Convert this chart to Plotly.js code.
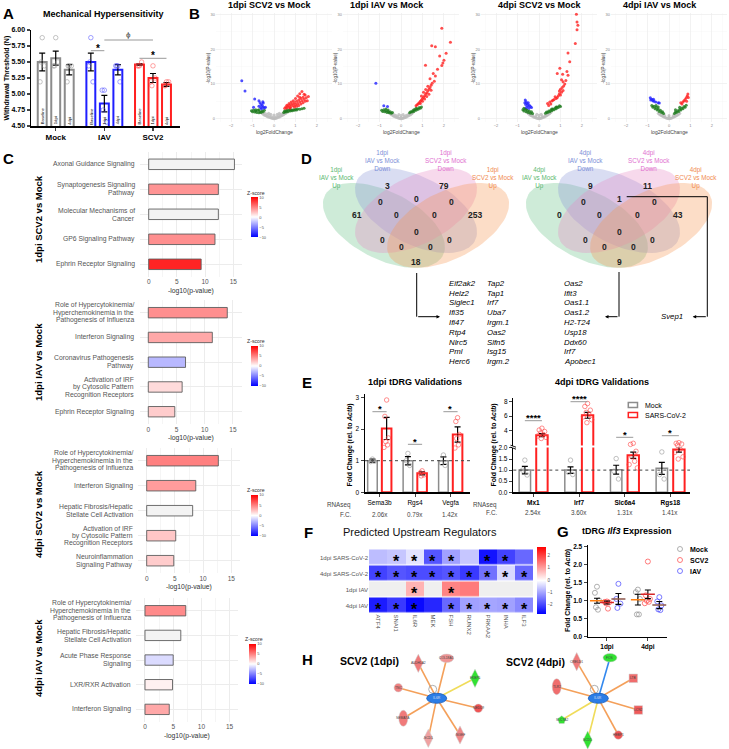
<!DOCTYPE html>
<html>
<head>
<meta charset="utf-8">
<script src="https://cdn.plot.ly/plotly-3.0.1.min.js"></script>
<style>html,body{margin:0;padding:0;background:#fff;}#chart{width:729px;height:749px;}</style>
</head>
<body>
<div id="chart"></div>
<script>
// ================= DATA =================
// Panel A: mechanical hypersensitivity
const aGroups=['Mock','IAV','SCV2'];
const aTimes=['Baseline','1dpi','4dpi'];
const aMeans=[[5.50,5.56,5.38],[5.50,4.85,5.38],[5.46,5.25,5.15]];
const aSem=[[0.14,0.11,0.08],[0.14,0.13,0.08],[0.01,0.07,0.03]];
const aPoints=[
 [[5.88,5.19,5.44,5.50],[5.88,5.44,5.50,5.44],[5.44,5.19,5.44,5.44]],
 [[5.88,5.44,5.19,5.50],[5.06,5.06,4.56,4.75],[5.44,5.44,5.19,5.44]],
 [[5.44,5.44,5.50,5.44],[5.44,5.19,5.25,5.13],[5.19,5.13,5.19,5.13]]];

// Panel B: volcano plots [log2FC, -log10 p]
const bTitles=['1dpi SCV2 vs Mock','1dpi IAV vs Mock','4dpi SCV2 vs Mock','4dpi IAV vs Mock'];
const b1Gray=[[-0.55,1.6],[-0.5,1.3],[-0.45,1.1],[-0.4,0.9],[-0.35,0.8],[-0.3,0.6],[-0.25,0.5],[-0.2,0.35],[-0.15,0.25],[-0.1,0.15],[-0.05,0.05],[0,0.02],[0.05,0.08],[0.1,0.15],[0.15,0.25],[0.2,0.4],[0.25,0.5],[0.3,0.7],[0.35,0.85],[0.4,1.0],[0.45,1.2],[0.5,1.4],[0.55,1.6],[-0.3,1.2],[-0.2,0.9],[-0.1,0.6],[0,0.5],[0.1,0.6],[0.2,0.9],[0.3,1.2],[-0.4,1.5],[0.4,1.5],[-0.15,1.3],[0.15,1.3],[0,1.1],[-0.6,1.9],[0.6,1.9],[-0.25,1.6],[0.25,1.6]];
const b1Green=[[-1.05,2.3],[-1.0,2.0],[-0.95,2.5],[-0.9,1.9],[-0.85,2.2],[-0.8,1.8],[-0.75,2.4],[-0.7,1.7],[-0.65,2.0],[-0.6,1.8],[-0.55,2.2],[-0.5,2.0],[-0.45,2.4],[-0.85,2.6],[-0.7,2.6],[0.45,1.8],[0.5,2.0],[0.55,1.9],[0.6,2.2],[0.65,2.0],[0.7,2.4],[0.75,2.2],[0.8,2.5],[0.85,2.3],[0.9,2.6],[0.95,2.4],[1.0,2.7],[1.05,2.5],[1.1,2.8],[1.2,2.7],[1.3,2.9],[1.4,3.0],[0.6,2.6],[0.75,2.7],[0.5,2.3]];
const b1Blue=[[-1.5,10.9],[-1.35,8.0],[-0.9,5.7],[-0.95,3.3],[-0.7,5.2],[-0.65,4.6],[-0.6,4.1],[-0.55,3.8],[-0.5,3.4],[-0.62,3.2],[-0.5,4.5],[-0.45,3.1],[-0.58,2.9],[-0.7,3.6],[-0.4,3.3],[-0.52,4.9]];
const b1Red=[[0.5,3.0],[0.55,3.4],[0.6,3.1],[0.65,3.7],[0.7,3.3],[0.75,4.0],[0.8,3.5],[0.85,4.3],[0.9,3.8],[0.95,4.6],[1.0,4.1],[1.05,5.0],[1.1,4.4],[1.15,5.4],[1.2,4.8],[1.25,5.8],[1.3,5.2],[1.35,6.2],[1.4,5.6],[1.45,6.8],[1.5,6.0],[1.2,7.2],[1.3,7.8],[1.1,6.5],[1.0,5.8],[0.9,5.2],[0.8,4.8],[0.7,4.4],[0.6,3.9],[1.4,7.0],[1.6,6.4],[1.55,5.2],[1.35,4.6],[1.15,3.8],[0.95,3.4],[1.25,4.2],[0.75,3.1],[1.05,3.6],[1.45,5.0],[1.2,6.2]];
const b2Gray=[[-0.5,1.4],[-0.45,1.2],[-0.4,1.0],[-0.35,0.8],[-0.3,0.65],[-0.25,0.5],[-0.2,0.35],[-0.15,0.25],[-0.1,0.12],[-0.05,0.05],[0,0.02],[0.05,0.06],[0.1,0.14],[0.15,0.25],[0.2,0.38],[0.25,0.5],[0.3,0.68],[0.35,0.82],[0.4,1.0],[0.45,1.2],[0.5,1.4],[-0.25,1.0],[-0.15,0.7],[0,0.45],[0.15,0.7],[0.25,1.0],[-0.35,1.3],[0.35,1.3],[0,0.9],[-0.1,1.2],[0.1,1.2],[-0.55,1.7],[0.55,1.7]];
const b2Green=[[-0.9,2.4],[-0.85,2.1],[-0.8,2.6],[-0.75,2.0],[-0.7,2.3],[-0.65,1.8],[-0.6,2.1],[-0.55,1.7],[-0.5,2.0],[-0.45,1.6],[-0.4,1.8],[-0.7,2.8],[-0.6,2.5],[0.4,1.7],[0.45,2.0],[0.5,1.9],[0.55,2.3],[0.6,2.1],[0.65,2.6],[0.7,2.4],[0.75,2.9],[0.8,2.7],[0.85,3.2],[0.9,3.0],[0.95,3.4],[0.6,2.6],[0.7,3.0]];
const b2Blue=[[-1.17,10.2],[-0.8,3.7],[-0.63,3.5]];
const b2Red=[[1.9,26.0],[2.3,22.0],[1.43,21.0],[1.6,20.7],[2.1,18.8],[1.8,18.0],[2.0,16.8],[1.95,16.0],[1.9,15.3],[1.14,15.4],[1.5,13.0],[1.55,10.8],[1.45,10.2],[1.4,9.6],[1.35,9.0],[1.3,8.5],[1.25,8.0],[1.2,7.5],[1.15,7.1],[1.1,6.6],[1.05,6.2],[1.0,5.8],[0.95,5.4],[0.9,5.0],[0.85,4.6],[0.8,4.3],[0.75,4.0],[0.7,3.7],[1.3,7.0],[1.2,6.4],[1.1,5.7],[1.0,5.0],[0.9,4.4],[1.4,8.2],[1.25,9.3],[1.15,8.4],[1.05,7.6],[0.95,6.5],[1.35,11.5],[1.6,12.3],[1.7,14.2]];
const b3Gray=[[-0.5,1.5],[-0.45,1.25],[-0.4,1.0],[-0.35,0.85],[-0.3,0.7],[-0.25,0.5],[-0.2,0.38],[-0.15,0.25],[-0.1,0.14],[-0.05,0.05],[0,0.02],[0.05,0.06],[0.1,0.15],[0.15,0.26],[0.2,0.4],[0.25,0.52],[0.3,0.7],[0.35,0.86],[0.4,1.05],[0.45,1.25],[0.5,1.5],[-0.3,1.1],[-0.15,0.8],[0,0.5],[0.15,0.8],[0.3,1.1],[-0.4,1.4],[0.4,1.4],[0,1.0],[-0.1,1.3],[0.1,1.3],[-0.55,1.8],[0.55,1.8]];
const b3Green=[[-0.75,2.6],[-0.7,2.2],[-0.65,2.8],[-0.6,2.0],[-0.55,2.4],[-0.5,1.8],[-0.45,2.2],[-0.4,1.6],[-0.35,2.0],[-0.3,1.5],[-0.7,3.0],[-0.6,2.7],[0.3,1.6],[0.35,1.9],[0.4,1.8],[0.45,2.2],[0.5,2.0],[0.55,2.5],[0.6,2.3],[0.65,2.8],[0.7,2.6],[0.75,3.1],[0.8,2.9],[0.85,3.4],[0.9,3.2],[0.95,3.7],[1.0,3.5],[0.6,2.8],[0.8,3.4]];
const b3Blue=[[-0.64,5.4],[-0.6,4.9],[-0.55,4.3],[-0.5,4.6],[-0.45,3.9],[-0.4,3.5],[-0.66,4.6],[-0.52,3.7],[-0.58,3.3],[-0.35,3.2],[-0.62,4.1],[-0.47,3.0]];
const b3Red=[[1.74,30.0],[1.77,27.8],[1.81,26.9],[1.77,25.6],[1.69,21.6],[1.35,18.9],[1.43,16.4],[0.97,14.5],[1.3,13.6],[0.85,13.0],[1.1,12.8],[1.35,12.5],[1.05,11.2],[1.12,10.6],[1.2,10.0],[1.15,9.4],[1.08,9.0],[1.0,8.5],[1.12,8.1],[1.05,7.6],[0.95,7.2],[0.9,6.6],[0.85,6.1],[0.8,5.8],[0.7,5.5],[0.6,5.1],[0.5,4.8],[0.4,4.4],[0.75,6.3],[0.65,5.3],[0.95,8.0],[1.25,11.0],[0.55,4.2],[0.45,3.8],[1.0,6.8]];
const b4Gray=[[-0.45,1.3],[-0.4,1.1],[-0.35,0.9],[-0.3,0.7],[-0.25,0.55],[-0.2,0.4],[-0.15,0.26],[-0.1,0.14],[-0.05,0.05],[0,0.02],[0.05,0.06],[0.1,0.14],[0.15,0.27],[0.2,0.4],[0.25,0.55],[0.3,0.72],[0.35,0.9],[0.4,1.1],[0.45,1.3],[-0.2,0.9],[0,0.5],[0.2,0.9],[-0.3,1.2],[0.3,1.2],[0,0.95],[-0.5,1.6],[0.5,1.6]];
const b4Green=[[-0.8,3.8],[-0.75,3.3],[-0.7,3.6],[-0.65,2.9],[-0.6,3.2],[-0.55,2.5],[-0.5,2.8],[-0.45,2.1],[-0.4,2.4],[-0.35,1.8],[-0.3,2.0],[-0.25,1.5],[-0.6,3.8],[-0.5,3.4],[0.25,1.5],[0.3,1.9],[0.35,1.8],[0.4,2.3],[0.45,2.1],[0.5,2.7],[0.55,2.5],[0.6,3.1],[0.65,2.9],[0.7,3.5],[0.75,3.3],[0.8,3.9],[0.5,3.3],[0.3,2.6]];
const b4Blue=[[-0.87,6.0],[-0.8,5.6],[-0.75,5.2],[-0.7,5.0],[-0.62,4.8],[-0.5,4.6],[-0.85,5.4],[-0.45,4.5],[-0.72,5.6]];
const b4Red=[[0.88,7.1],[0.85,6.5],[0.8,6.0],[0.75,5.5],[0.7,5.2],[0.65,4.8],[0.55,4.6],[0.82,5.0],[0.9,6.1],[0.6,4.2]];

// Panel C: pathway enrichment
const cLabels=['1dpi SCV2 vs Mock','1dpi IAV vs Mock','4dpi SCV2 vs Mock','4dpi IAV vs Mock'];
const c1Terms=['Axonal Guidance Signaling','Synaptogenesis Signaling<br>Pathway','Molecular Mechanisms of<br>Cancer','GP6 Signaling Pathway','Ephrin Receptor Signaling'];
const c1P=[15.2,12.35,12.35,11.75,9.3];
const c1Z=[null,4.2,null,4.4,8.6];
const c2Terms=['Role of Hypercytokinemia/<br>Hyperchemokinemia in the<br>Pathogenesis of Influenza','Interferon Signaling','Coronavirus Pathogenesis<br>Pathway','Activation of IRF<br>by Cytosolic Pattern<br>Recognition Receptors','Ephrin Receptor Signaling'];
const c2P=[14.0,11.35,6.6,6.0,4.7];
const c2Z=[4.4,3.4,-2.8,1.4,2.0];
const c3Terms=['Role of Hypercytokinemia/<br>Hyperchemokinemia in the<br>Pathogenesis of Influenza','Interferon Signaling','Hepatic Fibrosis/Hepatic<br>Stellate Cell Activation','Activation of IRF<br>by Cytosolic Pattern<br>Recognition Receptors','Neuroinflammation<br>Signaling Pathway'];
const c3P=[12.7,8.7,8.15,5.15,4.8];
const c3Z=[5.0,3.9,null,2.2,2.0];
const c4Terms=['Role of Hypercytokinemia/<br>Hyperchemokinemia in the<br>Pathogenesis of Influenza','Hepatic Fibrosis/Hepatic<br>Stellate Cell Activation','Acute Phase Response<br>Signaling','LXR/RXR Activation','Interferon Signaling'];
const c4P=[7.23,6.35,5.0,4.88,4.3];
const c4Z=[4.6,null,-1.4,0.6,3.4];

// Panel D: Venn diagrams
const d1Sets=['1dpi<br>IAV vs Mock<br>Up','1dpi<br>IAV vs Mock<br>Down','1dpi<br>SCV2 vs Mock<br>Down','1dpi<br>SCV2 vs Mock<br>Up'];
const d2Sets=['4dpi<br>IAV vs Mock<br>Up','4dpi<br>IAV vs Mock<br>Down','4dpi<br>SCV2 vs Mock<br>Down','4dpi<br>SCV2 vs Mock<br>Up'];
// region order: G, B, P, O, GB, BP, PO, GP, BO, GBPO, GBP, BPO, GPO, GBO, GO
const d1Counts=[61,3,79,253,0,0,0,0,0,0,0,0,0,0,18];
const d2Counts=[0,9,11,43,0,1,0,0,0,0,0,0,0,0,9];
const d1GenesA=['Eif2ak2','Helz2','Siglec1','Ifi35','Ifi47','Rtp4','Nlrc5','Pml','Herc6'];
const d1GenesB=['Tap2','Tap1','Irf7','Uba7','Irgm.1','Oas2','Slfn5','Isg15','Irgm.2'];
const d2Genes=['Oas2','Ifit3','Oas1.1','Oas1.2','H2-T24','Usp18','Ddx60','Irf7','Apobec1'];
const d2Single=['Svep1'];

// Panel E: qPCR validations
const e1Genes=['Sema3b','Rgs4','Vegfa'];
const e1Mock=[1.0,1.0,1.0];
const e1MockSem=[0.05,0.13,0.12];
const e1Scv=[2.02,0.60,1.83];
const e1ScvSem=[0.35,0.05,0.24];
const e1MockPts=[[1.05,0.97,0.98],[1.23,1.0,0.85],[1.18,0.92,0.85]];
const e1ScvPts=[[2.92,2.4,1.72,1.6,1.5,1.42],[0.68,0.62,0.55,0.52],[2.36,2.24,1.83,1.7,1.5,1.4]];
const e1FC=['2.06x','0.79x','1.42x'];
const e2Genes=['Mx1','Irf7','Slc6a4','Rgs18'];
const e2Mock=[1.0,1.0,1.02,1.08];
const e2MockSem=[0.17,0.15,0.2,0.27];
const e2Scv=[3.4,6.1,1.67,1.93];
const e2ScvSem=[0.2,0.4,0.14,0.12];
const e2MockPts=[[1.45,1.0,0.78],[1.45,0.9,0.8],[1.52,0.95,0.6],[1.82,0.8,0.6]];
const e2ScvPts=[[4.35,4.1,3.9,3.7,3.5,3.3,3.1,2.95],[7.7,7.3,6.8,6.5,6.2,5.9,5.5,5.1],[2.3,2.15,1.85,1.6,1.4,1.25,1.1],[2.39,2.3,2.2,2.05,1.95,1.8,1.6,1.5]];
const e2FC=['2.54x','3.60x','1.31x','1.41x'];
const eSig1=['*','*','*'];
const eSig2=['****','****','*','*'];

// Panel F: upstream regulators
const fCols=['ATF4','SNAI1','IL6R','MEK','FSH','RUNX2','PRKAA2','INHA','ILF3'];
const fRows=['1dpi SARS-CoV-2','4dpi SARS-CoV-2','1dpi IAV','4dpi IAV'];
const fZ=[[-0.7,-0.6,-0.3,-1.8,-1.0,-0.6,-2.5,-2.0,-1.6],
          [-2.0,-1.8,-1.9,-1.9,-1.8,-2.1,-1.5,-0.4,-1.6],
          [null,null,0.8,null,1.3,1.4,null,null,null],
          [-2.4,-2.1,-2.6,-2.3,-1.6,-1.0,-0.95,-1.0,-1.25]];
const fSig=[[0,1,1,1,1,0,1,1,0],[1,1,1,1,1,1,1,1,1],[0,0,1,0,1,0,0,0,0],[1,1,1,0,1,1,1,1,1]];

// Panel G: Ilf3 expression
const gGroups=['1dpi','4dpi'];
const gSeries=['Mock','SCV2','IAV'];
const gMeans=[[1.0,1.03],[0.95,1.18],[1.05,0.88]];
const gSem=[[0.07,0.15],[0.04,0.12],[0.15,0.1]];
const gPts=[[[1.39,1.22,1.01,0.82,0.75],[1.31,1.24,1.05,0.62,0.62]],
            [[0.98,0.97,0.95,0.93,0.78],[2.09,1.15,1.05,1.0,0.97,0.93]],
            [[1.47,1.05,0.92,0.8],[1.1,0.98,0.87,0.76,0.74]]];

// Panel H: networks (node layout positions in page pixels)
const h1Hub='IL6R';
const h1Nodes=['ALDH1A2','COL18A1','FKBP5','TNC','NEDD9','SEMA7A','SCD1','NGEF'];
const h1Kind=['diamond','ellipse','diamond','circle','circle','vellipse','diamond','diamond'];
const h1Dir=['up','up','down','up','up','up','up','up'];
const h1Lvl=[0.6,0.4,1,0.55,0.9,0.6,0.3,0.5];
const h1Pos=[[418.3,663.3],[446.7,658.3],[475,678.3],[398.3,687.7],[478.3,708.3],[403.3,718.3],[428.3,738.3],[460,735]];
const h1Edge=['orange','orange','yellow','orange','orange','orange','orange','orange'];
const h2Hub='IL6R';
const h2Nodes=['CRELD1','FOS','LTB','TLR2','LCN2','SLC7A2','SCD1','HEBP1'];
const h2Kind=['diamond','ellipse','square','vellipse','square','pentagon','diamond','circle'];
const h2Dir=['up','down','up','up','up','down','down','up'];
const h2Lvl=[0.6,1,0.7,0.7,0.85,1,1,0.9];
const h2Pos=[[576.7,661.7],[610,657.7],[633.3,678.3],[556.7,686.7],[638.3,710],[561.7,720],[587.7,740],[618.3,735]];
const h2Edge=['orange','blue','orange','orange','orange','yellow','yellow','orange'];

// ================= BUILD =================
const W=729,H=749;
const FONT='"Liberation Sans", Arial, Helvetica, sans-serif';
const traces=[],ann=[],shapes=[];
const layout={width:W,height:H,margin:{l:0,r:0,t:0,b:0},showlegend:false,barmode:'overlay',
  paper_bgcolor:'#ffffff',plot_bgcolor:'rgba(0,0,0,0)',font:{family:FONT,size:7,color:'#000'},annotations:ann,shapes:shapes};
function dx(a,b){return [a/W,b/W];}
function dy(t,b){return [1-b/H,1-t/H];}
function T(x,y,text,size,o){o=o||{};ann.push({xref:o.xref||'x20',yref:o.yref||'y20',x:x,y:y,text:text,showarrow:false,
  xanchor:o.xa||'center',yanchor:o.ya||'middle',textangle:o.angle||0,yshift:o.yshift||0,
  font:{family:FONT,size:size,color:o.color||'#000'}});}
function L(x0,y0,x1,y1,o){o=o||{};shapes.push({type:'line',xref:o.xref||'x20',yref:o.yref||'y20',x0:x0,y0:y0,x1:x1,y1:y1,
  line:{color:o.color||'#000',width:o.width||1,dash:o.dash||'solid'}});}
function jit(n,w){const p=[0,-1,1,-0.5,0.5,-1.5,1.5,-0.25,0.25];return Array.from({length:n},(_,k)=>p[k%p.length]*w);}
layout.xaxis20={domain:[0,1],range:[0,W],visible:false,anchor:'y20',fixedrange:true};
layout.yaxis20={domain:[0,1],range:[H,0],visible:false,anchor:'x20',fixedrange:true};

// panel letters
[['A',8,13],['B',194,13],['C',8,158],['D',306,158],['E',307,382],['F',308,532],['G',563,531],['H',307,659]].forEach(l=>T(l[1],l[2],'<b>'+l[0]+'</b>',15));

// ---------- Panel A ----------
const aCol=['#8c8c8c','#1f1fff','#ff2020'];
const aPtCol=['rgba(150,150,150,0.55)','rgba(70,70,255,0.5)','rgba(255,70,70,0.5)'];
const aPos=(g,i)=>g*3.6+i;
aGroups.forEach((grp,g)=>{
  const xs=aTimes.map((t,i)=>aPos(g,i));
  traces.push({type:'bar',x:xs,y:aMeans[g],width:0.66,xaxis:'x',yaxis:'y',
    marker:{color:'#ffffff',line:{color:aCol[g],width:2}},
    error_y:{type:'data',array:aSem[g],color:'#000',thickness:1.2,width:3}});
  const px=[],py=[];
  aPoints[g].forEach((pts,i)=>{const j=jit(pts.length,0.16);pts.forEach((v,k)=>{px.push(aPos(g,i)+j[k]);py.push(v);});});
  traces.push({type:'scatter',mode:'markers',x:px,y:py,xaxis:'x',yaxis:'y',cliponaxis:false,
    marker:{symbol:'circle-open',size:4.5,color:aPtCol[g],line:{width:1}}});
  aTimes.forEach((t,i)=>T(aPos(g,i),t==='Baseline'?116:120.5,t,4.2,{xref:'x',angle:-90}));
});
layout.xaxis={domain:dx(31,180),range:[-0.83,10.2],anchor:'y',tickvals:[1,4.6,8.2],
  ticktext:aGroups.map(s=>'<b>'+s+'</b>'),tickfont:{size:8},showline:true,linecolor:'#000',linewidth:1.5,
  ticks:'outside',ticklen:3,tickwidth:1.2,showgrid:false,zeroline:false,fixedrange:true};
layout.yaxis={domain:dy(30,126),range:[4.5,6.0],anchor:'x',tickvals:[4.5,4.75,5.0,5.25,5.5,5.75,6.0],
  ticktext:['4.50','4.75','5.00','5.25','5.50','5.75','6.00'].map(s=>'<b>'+s+'</b>'),tickfont:{size:7},
  showline:true,linecolor:'#000',linewidth:1.5,ticks:'outside',ticklen:3,tickwidth:1.2,showgrid:false,zeroline:false,fixedrange:true};
T(103,14,'<b>Mechanical Hypersensitivity</b>',9);
T(6.5,78,'<b>Withdrawal Threshold (N)</b>',7,{angle:-90});
L(aPos(1,0),50.7,aPos(1,1),50.7,{xref:'x',color:'#999'});
T((aPos(1,0)+aPos(1,1))/2,48.5,'<b>*</b>',10,{xref:'x'});
L(aPos(1,1),40,aPos(2,1),40,{xref:'x',color:'#999'});
T((aPos(1,1)+aPos(2,1))/2,34,'ϕ',8,{xref:'x',color:'#444'});
L(aPos(2,0),58.3,aPos(2,2),58.3,{xref:'x',color:'#999'});
T(aPos(2,1),55.8,'<b>*</b>',10,{xref:'x'});

// ---------- Panel B ----------
const bSets=[[b1Gray,b1Green,b1Blue,b1Red],[b2Gray,b2Green,b2Blue,b2Red],[b3Gray,b3Green,b3Blue,b3Red],[b4Gray,b4Green,b4Blue,b4Red]];
const bDom=[[216,332],[343,459],[481,597],[611,727]];
const bTitleX=[270,387,540,660];
const bCol=['#bdbdbd','#1d7a1d','#2222ff','#ff2222'];
bSets.forEach((sets,k)=>{
  const n=k+2;
  sets.forEach((s,c)=>traces.push({type:'scatter',mode:'markers',x:s.map(p=>p[0]),y:s.map(p=>p[1]),
    xaxis:'x'+n,yaxis:'y'+n,marker:{size:3,color:bCol[c],opacity:0.8}}));
  layout['xaxis'+n]={domain:dx(bDom[k][0],bDom[k][1]),range:[-2.7,2.7],anchor:'y'+n,tickvals:[-2,-1,0,1,2],
    tickfont:{size:4,color:'#888'},showgrid:true,gridcolor:'#ededed',gridwidth:0.6,zeroline:false,ticks:'',fixedrange:true,
    minor:{dtick:0.5,showgrid:true,gridcolor:'#f6f6f6',gridwidth:0.4}};
  layout['yaxis'+n]={domain:dy(12.6,122.2),range:[-1,30.5],anchor:'x'+n,tickvals:[0,10,20,30],
    tickfont:{size:4,color:'#888'},showgrid:true,gridcolor:'#ededed',gridwidth:0.6,zeroline:false,ticks:'',fixedrange:true,
    minor:{dtick:5,showgrid:true,gridcolor:'#f6f6f6',gridwidth:0.4}};
  T(bTitleX[k],5,'<b>'+bTitles[k]+'</b>',9);
  T((bDom[k][0]+bDom[k][1])/2,131.5,'log2FoldChange',5,{color:'#444'});
  T(bDom[k][0]-8.5,68,'-log10(P-value)',4.5,{angle:-90,color:'#444'});
});

// ---------- Panel C ----------
const cScale=[[0,'#0000ff'],[0.5,'#ffffff'],[1,'#ff0000']];
const cTerms=[c1Terms,c2Terms,c3Terms,c4Terms],cP=[c1P,c2P,c3P,c4P],cZ=[c1Z,c2Z,c3Z,c4Z];
const cGeom=[{x0:140,y0:151.8,y1:276.8,cb:[250.7,197.7,237.3],lab:219},
             {x0:139.6,y0:300.3,y1:424.1,cb:[250.7,346,386],lab:362},
             {x0:138,y0:448.2,y1:573.2,cb:[250.7,495,535.7],lab:514},
             {x0:136.3,y0:598.4,y1:721.7,cb:[248.5,644,684],lab:658}];
cTerms.forEach((terms,k)=>{
  const n=k+6,G=cGeom[k],pos=terms.map((t,i)=>i);
  const P=cP[k],Z=cZ[k];
  traces.push({type:'bar',orientation:'h',x:P.map((v,i)=>Z[i]===null?null:v),y:pos,width:0.42,xaxis:'x'+n,yaxis:'y'+n,
    marker:{color:Z.map(z=>z===null?0:z),cmin:-10,cmax:10,colorscale:cScale,line:{color:'#5e5e5e',width:0.9},showscale:true,
      colorbar:{x:G.cb[0]/W,xanchor:'left',y:1-(G.cb[1]+G.cb[2])/2/H,yanchor:'middle',len:G.cb[2]-G.cb[1],lenmode:'pixels',
        thickness:6.5,thicknessmode:'pixels',outlinewidth:0,xpad:0,ypad:0,tickvals:[-10,-5,0,5,10],ticks:'',
        tickfont:{size:4,color:'#555'}}}});
  traces.push({type:'bar',orientation:'h',x:P.map((v,i)=>Z[i]===null?v:null),y:pos,width:0.42,xaxis:'x'+n,yaxis:'y'+n,
    marker:{color:'#f3f3f3',line:{color:'#5e5e5e',width:0.9}}});
  layout['xaxis'+n]={domain:dx(G.x0,G.x0+102),range:[-1.54,16.54],anchor:'y'+n,tickvals:[0,5,10,15],
    tickfont:{size:6.5,color:'#555'},showgrid:true,gridcolor:'#ececec',zeroline:false,ticks:'',fixedrange:true,
    minor:{dtick:2.5,showgrid:true,gridcolor:'#f5f5f5'}};
  layout['yaxis'+n]={domain:dy(G.y0,G.y1),range:[4.5,-0.5],anchor:'x'+n,tickvals:pos,showticklabels:false,
    showgrid:true,gridcolor:'#ececec',zeroline:false,ticks:'',fixedrange:true};
  const step=(G.y1-G.y0)/terms.length;
  terms.forEach((t,i)=>{const lines=t.split('<br>');const cy=G.y0+(i+0.5)*step;
    lines.forEach((ln,j)=>T(G.x0-3.5,cy+(j-(lines.length-1)/2)*7.7,ln,6.8,{xa:'right',color:'#555'}));});
  T(G.x0+51,G.y1+14,'-log10(p-value)',6.8,{color:'#333'});
  T(G.cb[0]+5,G.cb[1]-5,'Z-score',5.2,{color:'#333'});
  T(38,G.lab,'<b>'+cLabels[k]+'</b>',9.5,{angle:-90});
});

// ---------- Panel D ----------
function ellipse(cx,cy,a,b,sx,sy,dir){const xs=[],ys=[],c=Math.SQRT1_2;
  for(let k=0;k<=80;k++){const t=k/80*2*Math.PI,u=a*Math.cos(t),v=b*Math.sin(t);
    xs.push(cx+dir*sx*(u*c-v*c));ys.push(cy+sy*(u*c+v*c));}return {xs,ys};}
const vFill=['rgba(102,194,133,0.32)','rgba(138,150,214,0.32)','rgba(230,138,195,0.32)','rgba(247,148,82,0.32)'];
const vText=['#5cb870','#7d8fd8','#e070cf','#f08a50'];
const vRegOff=[[-59.3,215.3],[-28.3,186],[28,186],[59,215.3],[-36,201.7],[0,199],[35,201.7],[-19.3,215.3],[18.3,215.3],[0,231.7],[-33.7,240],[33.3,240],[-14.3,246.7],[14,246.7],[0,261.7]];
const vSetOff=[[-79.3,178],[-33.3,160],[30,160],[77,178]];
[[416,d1Sets,d1Counts],[619,d2Sets,d2Counts]].forEach(V=>{
  const cx=V[0];
  const E=[ellipse(cx-32.1,225.4,0.35,0.2,214,149,1),ellipse(cx,210.5,0.35,0.2,214,149,1),
           ellipse(cx,210.5,0.35,0.2,214,149,-1),ellipse(cx+32.1,225.4,0.35,0.2,214,149,-1)];
  E.forEach((e,i)=>traces.push({type:'scatter',mode:'lines',x:e.xs,y:e.ys,xaxis:'x20',yaxis:'y20',fill:'toself',
    fillcolor:vFill[i],line:{width:0},hoverinfo:'skip'}));
  V[1].forEach((s,i)=>T(cx+vSetOff[i][0],vSetOff[i][1],s,6.3,{color:vText[i]}));
  V[2].forEach((c,i)=>T(cx+vRegOff[i][0],vRegOff[i][1],'<b>'+c+'</b>',8.5,{color:'#222'}));
});
const gy0=283.3,gstep=9.8;
d1GenesA.forEach((g,i)=>T(446.7,gy0+i*gstep,'<i>'+g+'</i>',7.8,{xa:'left'}));
d1GenesB.forEach((g,i)=>T(485,gy0+i*gstep,'<i>'+g+'</i>',7.8,{xa:'left'}));
d2Genes.forEach((g,i)=>T(561.7,gy0+i*gstep,'<i>'+g+'</i>',7.8,{xa:'left'}));
T(659,316.7,'<i>'+d2Single[0]+'</i>',7.8,{xa:'left'});
function arrowHead(x,y,ax){ann.push({xref:'x20',yref:'y20',x:x,y:y,ax:ax,ay:0,axref:'pixel',ayref:'pixel',text:'',showarrow:true,
  arrowhead:2,arrowsize:0.7,arrowwidth:1,arrowcolor:'#000'});}
L(416.7,273,416.7,316.7);arrowHead(440,316.7,-23.3);
L(619,272,619,316.7);arrowHead(605,316.7,14);
L(626.7,196.7,707.3,196.7);L(707.3,196.7,707.3,316.7);arrowHead(692.7,316.7,14.6);

// ---------- Panel E ----------
const eGray='#8c8c8c',eRed='#ff2020';
const eGrayPt='rgba(150,150,150,0.6)',eRedPt='rgba(255,70,70,0.6)';
traces.push({type:'bar',x:e1Genes.map((g,i)=>i-0.2),y:e1Mock,width:0.27,xaxis:'x10',yaxis:'y10',
  marker:{color:'#fff',line:{color:eGray,width:1.5}},error_y:{type:'data',array:e1MockSem,color:'#000',thickness:1.2,width:3}});
traces.push({type:'bar',x:e1Genes.map((g,i)=>i+0.2),y:e1Scv,width:0.27,xaxis:'x10',yaxis:'y10',
  marker:{color:'#fff',line:{color:eRed,width:2}},error_y:{type:'data',array:e1ScvSem,color:'#000',thickness:1.2,width:3}});
(function(){const mx=[],my=[],sx=[],sy=[];
  e1MockPts.forEach((pts,i)=>{const j=jit(pts.length,0.05);pts.forEach((v,k)=>{mx.push(i-0.2+j[k]);my.push(v);});});
  e1ScvPts.forEach((pts,i)=>{const j=jit(pts.length,0.05);pts.forEach((v,k)=>{sx.push(i+0.2+j[k]);sy.push(v);});});
  traces.push({type:'scatter',mode:'markers',x:mx,y:my,xaxis:'x10',yaxis:'y10',cliponaxis:false,marker:{symbol:'circle-open',size:4.5,color:eGrayPt,line:{width:1}}});
  traces.push({type:'scatter',mode:'markers',x:sx,y:sy,xaxis:'x10',yaxis:'y10',cliponaxis:false,marker:{symbol:'circle-open',size:4.5,color:eRedPt,line:{width:1}}});
})();
layout.xaxis10={domain:dx(365,470),range:[-0.41,2.55],anchor:'y10',tickvals:[0,1,2],ticktext:e1Genes,tickfont:{size:6.5},
  showline:true,linecolor:'#000',linewidth:1.5,ticks:'outside',ticklen:3,showgrid:false,zeroline:false,fixedrange:true};
layout.yaxis10={domain:dy(394.3,492.3),range:[0,3.1],anchor:'x10',tickvals:[0,1,2,3],tickfont:{size:6.5},
  showline:true,linecolor:'#000',linewidth:1.5,ticks:'outside',ticklen:3,showgrid:false,zeroline:false,fixedrange:true};
shapes.push({type:'line',xref:'x10 domain',yref:'y10',x0:0,x1:1,y0:1,y1:1,line:{color:'#444',width:1,dash:'dot'}});
T(415,381.7,'<b>1dpi tDRG Validations</b>',9);
T(349.5,445,'<b>Fold Change (rel. to <i>Actb</i>)</b>',6.8,{angle:-90});
const e1SigY=[411.7,444.3,411.7];
eSig1.forEach((s,i)=>{L(i-0.2,e1SigY[i],i+0.2,e1SigY[i],{xref:'x10',color:'#999'});T(i,e1SigY[i]-3,'<b>'+s+'</b>',9.5,{xref:'x10'});});
T(353.3,505,'RNAseq',6.3,{xa:'right',color:'#444'});T(353.3,514.3,'F.C.',6.3,{xa:'right',color:'#444'});
e1FC.forEach((f,i)=>T(i,514.3,f,6.3,{xref:'x10',color:'#444'}));
const brk=2.0;
traces.push({type:'bar',x:e2Genes.map((g,i)=>i-0.187),y:e2Mock,width:0.25,xaxis:'x11',yaxis:'y11',
  marker:{color:'#fff',line:{color:eGray,width:1.5}},error_y:{type:'data',array:e2MockSem,color:'#000',thickness:1.2,width:3}});
traces.push({type:'bar',x:e2Genes.map((g,i)=>i+0.187),y:e2Scv,width:0.25,xaxis:'x11',yaxis:'y11',
  marker:{color:'#fff',line:{color:eRed,width:2}},error_y:{type:'data',array:e2ScvSem.map((s,i)=>e2Scv[i]>brk?0:s),color:'#000',thickness:1.2,width:3}});
traces.push({type:'bar',x:e2Genes.map((g,i)=>i+0.187),y:e2Scv.map(v=>v>brk?v:null),width:0.25,xaxis:'x11',yaxis:'y12',
  marker:{color:'#fff',line:{color:eRed,width:2}},error_y:{type:'data',array:e2ScvSem,color:'#000',thickness:1.2,width:3}});
(function(){const lx=[],ly=[],ux=[],uy=[],mx=[],my=[];
  e2MockPts.forEach((pts,i)=>{const j=jit(pts.length,0.05);pts.forEach((v,k)=>{mx.push(i-0.187+j[k]);my.push(v);});});
  e2ScvPts.forEach((pts,i)=>{const j=jit(pts.length,0.06);pts.forEach((v,k)=>{if(v>brk){ux.push(i+0.187+j[k]);uy.push(v);}else{lx.push(i+0.187+j[k]);ly.push(v);}});});
  traces.push({type:'scatter',mode:'markers',x:mx,y:my,xaxis:'x11',yaxis:'y11',marker:{symbol:'circle-open',size:4.5,color:eGrayPt,line:{width:1}}});
  traces.push({type:'scatter',mode:'markers',x:lx,y:ly,xaxis:'x11',yaxis:'y11',marker:{symbol:'circle-open',size:4.5,color:eRedPt,line:{width:1}}});
  traces.push({type:'scatter',mode:'markers',x:ux,y:uy,xaxis:'x11',yaxis:'y12',cliponaxis:false,marker:{symbol:'circle-open',size:4.5,color:eRedPt,line:{width:1}}});
})();
layout.xaxis11={domain:dx(513.3,690),range:[-0.44,3.43],anchor:'y11',tickvals:[0,1,2,3],ticktext:e2Genes.map(g=>'<b>'+g+'</b>'),
  tickfont:{size:6.5},showline:true,linecolor:'#000',linewidth:1.5,ticks:'outside',ticklen:3,showgrid:false,zeroline:false,fixedrange:true};
layout.yaxis11={domain:dy(447.5,492.3),range:[0,2.02],anchor:'x11',tickvals:[0,0.5,1,1.5,2],ticktext:['0.0','0.5','1.0','1.5','2.0'],
  tickfont:{size:6.5},showline:true,linecolor:'#000',linewidth:1.5,ticks:'outside',ticklen:3,showgrid:false,zeroline:false,fixedrange:true};
layout.yaxis12={domain:dy(398,445.5),range:[2,8.45],anchor:'x11',tickvals:[4,6,8],tickfont:{size:6.5},
  showline:true,linecolor:'#000',linewidth:1.5,ticks:'outside',ticklen:3,showgrid:false,zeroline:false,fixedrange:true};
shapes.push({type:'line',xref:'x11 domain',yref:'y11',x0:0,x1:1,y0:1,y1:1,line:{color:'#444',width:1,dash:'dot'}});
L(510.5,445.2,516,447.2,{width:0.9});L(510.5,447.2,516,449.2,{width:0.9});
T(601.7,381.7,'<b>4dpi tDRG Validations</b>',9);
T(493.5,445,'<b>Fold Change (rel. to <i>Actb</i>)</b>',6.8,{angle:-90});
const e2SigY=[420.7,401.7,437.3,435.7];
eSig2.forEach((s,i)=>{L(i-0.187,e2SigY[i],i+0.187,e2SigY[i],{xref:'x11',color:'#999'});T(i,e2SigY[i]-3.2,'<b>'+s+'</b>',9.5,{xref:'x11'});});
T(499.3,505,'RNAseq',6.3,{xa:'right',color:'#444'});T(499.3,512.3,'F.C.',6.3,{xa:'right',color:'#444'});
e2FC.forEach((f,i)=>T(i,512.3,f,6.3,{xref:'x11',color:'#444'}));
shapes.push({type:'rect',xref:'x20',yref:'y20',x0:628.3,x1:637.5,y0:402.5,y1:407.5,fillcolor:'#fff',line:{color:eGray,width:1.5}});
shapes.push({type:'rect',xref:'x20',yref:'y20',x0:628.3,x1:637.5,y0:412.5,y1:417.5,fillcolor:'#fff',line:{color:eRed,width:1.5}});
T(643,405,'Mock',7,{xa:'left'});T(643,415,'SARS-CoV-2',7,{xa:'left'});

// ---------- Panel F ----------
const fScale=[[0,'#0000ff'],[0.5,'#ffffff'],[1,'#ff0000']];
traces.push({type:'heatmap',z:fZ,x:fCols,y:fRows,xaxis:'x13',yaxis:'y13',colorscale:fScale,zmin:-2.7,zmax:2.7,ygap:1.2,hoverinfo:'skip',
  colorbar:{x:537/W,xanchor:'left',y:1-580/H,yanchor:'middle',len:66.6,lenmode:'pixels',thickness:9,thicknessmode:'pixels',
    outlinewidth:0,xpad:0,ypad:0,tickvals:[-2,-1,0,1,2],ticks:'',tickfont:{size:4.5,color:'#555'}}});
traces.push({type:'heatmap',z:fZ.map(r=>r.map(v=>v===null?1:null)),x:fCols,y:fRows,xaxis:'x13',yaxis:'y13',
  colorscale:[[0,'#efefef'],[1,'#efefef']],showscale:false,ygap:1.2,hoverinfo:'skip'});
layout.xaxis13={domain:dx(369,533.3),anchor:'y13',tickangle:90,tickfont:{size:6,color:'#555'},ticks:'',showgrid:false,zeroline:false,fixedrange:true};
layout.yaxis13={domain:dy(543,613.5),anchor:'x13',autorange:'reversed',tickfont:{size:6,color:'#555'},ticks:'',showgrid:false,zeroline:false,fixedrange:true};
fSig.forEach((r,i)=>r.forEach((s,j)=>{if(s)ann.push({xref:'x13',yref:'y13',x:fCols[j],y:fRows[i],text:'<b>*</b>',showarrow:false,yshift:-4,font:{family:FONT,size:16,color:'#000'}});}));
T(420,532.3,'Predicted Upstream Regulators',11,{color:'#111'});

// ---------- Panel G ----------
const gOff=[-0.244,0,0.28];
const gPtCol=['rgba(150,150,150,0.75)','rgba(255,80,80,0.75)','rgba(80,80,255,0.75)'];
gSeries.forEach((s,k)=>{
  const px=[],py=[];
  gPts[k].forEach((pts,i)=>{const j=jit(pts.length,0.05);pts.forEach((v,m)=>{px.push(i+1+gOff[k]+j[m]);py.push(v);});});
  traces.push({type:'scatter',mode:'markers',x:px,y:py,xaxis:'x14',yaxis:'y14',cliponaxis:false,
    marker:{symbol:'circle-open',size:5,color:gPtCol[k],line:{width:1}}});
  traces.push({type:'scatter',mode:'markers',x:gGroups.map((g,i)=>i+1+gOff[k]),y:gMeans[k],xaxis:'x14',yaxis:'y14',
    marker:{symbol:'line-ew-open',size:10,line:{width:1.5,color:'#000'}},error_y:{type:'data',array:gSem[k],color:'#000',thickness:1.1,width:3}});
});
layout.xaxis14={domain:dx(588,666.7),range:[0.537,2.46],anchor:'y14',tickvals:[1,2],ticktext:gGroups.map(g=>'<b>'+g+'</b>'),
  tickfont:{size:6.5},showline:true,linecolor:'#000',linewidth:1.5,ticks:'outside',ticklen:3,showgrid:false,zeroline:false,fixedrange:true};
layout.yaxis14={domain:dy(545,636.7),range:[0,2.55],anchor:'x14',tickvals:[0,0.5,1,1.5,2,2.5],
  ticktext:['0.0','0.5','1.0','1.5','2.0','2.5'].map(s=>'<b>'+s+'</b>'),tickfont:{size:6.5},
  showline:true,linecolor:'#000',linewidth:1.5,ticks:'outside',ticklen:3,showgrid:false,zeroline:false,fixedrange:true};
T(626.7,531,'<b>tDRG <i>Ilf3</i> Expression</b>',9);
T(568,591,'<b>Fold Change (rel. to <i>Actb</i>)</b>',6.8,{angle:-90});
const gLegY=[549,560,571];
traces.push({type:'scatter',mode:'markers',x:[680,680,680],y:gLegY,xaxis:'x20',yaxis:'y20',
  marker:{symbol:'circle-open',size:5,color:gPtCol,line:{width:1}}});
gSeries.forEach((s,k)=>T(688,gLegY[k],'<b>'+s+'</b>',7,{xa:'left'}));

// ---------- Panel H ----------
const edgeCol={orange:'#f4a05a',yellow:'#f0dc5a',blue:'#3388ee'};
function nodeColor(dir,l){return dir==='up'?'rgb(240,'+Math.round(200-130*l)+','+Math.round(200-130*l)+')':'rgb('+Math.round(140-90*l)+',225,'+Math.round(140-90*l)+')';}
function network(hub,hubPos,names,kind,dir,lvl,pos,edge){
  names.forEach((n,i)=>traces.push({type:'scatter',mode:'lines',x:[hubPos[0],pos[i][0]],y:[hubPos[1],pos[i][1]],xaxis:'x20',yaxis:'y20',
    line:{color:edgeCol[edge[i]],width:1.6},hoverinfo:'skip'}));
  shapes.push({type:'circle',xref:'x20',yref:'y20',x0:hubPos[0]-8,x1:hubPos[0]+0,y0:hubPos[1]-13,y1:hubPos[1]-5,line:{color:'#999',width:0.8}});
  shapes.push({type:'circle',xref:'x20',yref:'y20',x0:hubPos[0]-10,x1:hubPos[0]+10,y0:hubPos[1]-5,y1:hubPos[1]+5,fillcolor:'#2b7de6',line:{color:'#1a5cb8',width:0.8}});
  T(hubPos[0],hubPos[1],hub,3.5,{color:'#dde'});
  const sym={diamond:'diamond-tall',circle:'circle',square:'square',pentagon:'pentagon'};
  names.forEach((n,i)=>{const c=nodeColor(dir[i],lvl[i]);const p=pos[i];
    if(kind[i]==='ellipse'||kind[i]==='vellipse'){const rx=kind[i]==='ellipse'?7:4.5,ry=kind[i]==='ellipse'?4.2:8;
      shapes.push({type:'circle',xref:'x20',yref:'y20',x0:p[0]-rx,x1:p[0]+rx,y0:p[1]-ry,y1:p[1]+ry,fillcolor:c,line:{color:'#ccc',width:0.5}});}
    else traces.push({type:'scatter',mode:'markers',x:[p[0]],y:[p[1]],xaxis:'x20',yaxis:'y20',
      marker:{symbol:sym[kind[i]],size:kind[i]==='diamond'?13:8.5,color:c,line:{color:'#ccc',width:0.5}}});
    T(p[0],p[1],n,3.3,{color:'#444'});
  });
}
network(h1Hub,[436.7,698.3],h1Nodes,h1Kind,h1Dir,h1Lvl,h1Pos,h1Edge);
network(h2Hub,[598.3,698.3],h2Nodes,h2Kind,h2Dir,h2Lvl,h2Pos,h2Edge);
T(369,661,'<b>SCV2 (1dpi)</b>',10.5);
T(535,662,'<b>SCV2 (4dpi)</b>',10.5);

Plotly.newPlot('chart',traces,layout,{staticPlot:true,displayModeBar:false});
</script>
</body>
</html>
